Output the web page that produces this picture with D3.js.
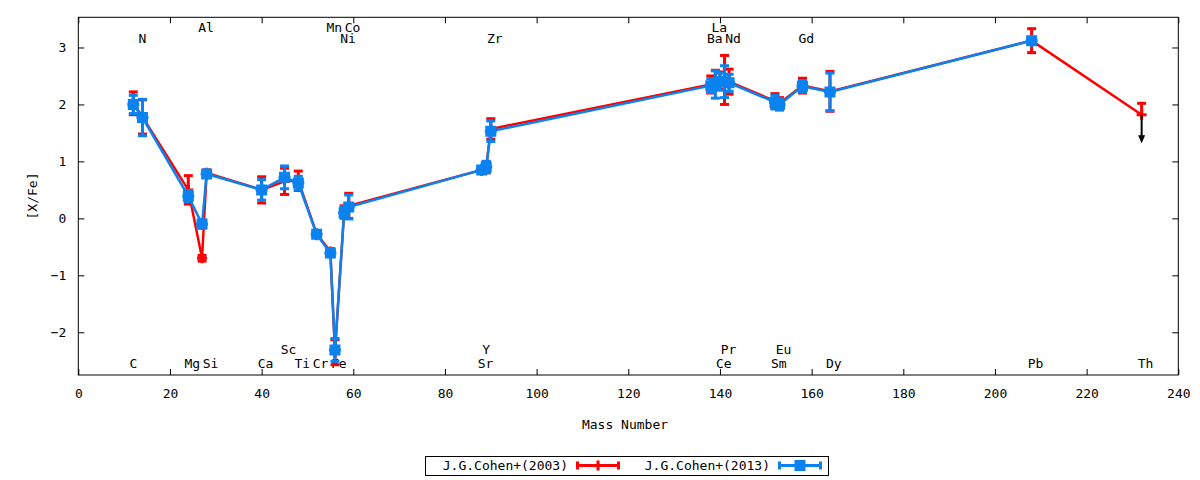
<!doctype html>
<html lang="en">
<head>
  <meta charset="utf-8">
  <title>[X/Fe] vs Mass Number</title>
  <script src="https://cdnjs.cloudflare.com/ajax/libs/d3/7.8.5/d3.min.js"></script>
  <style>
    body { margin: 0; background: #fff; }
    text { font-family: "DejaVu Sans Mono", monospace; font-size: 13px; fill: #000; }
  </style>
</head>
<body>
<svg width="1200" height="480" id="svg"></svg>

<script>
// element labels, mass number and which label row they sit in (0,1 bottom; 2,3 top)
var elements = ['C','N','Mg','Al','Si','Ca','Sc','Ti','Cr','Mn','Fe','Ni','Co','Sr','Y','Zr',
                'Ba','La','Ce','Pr','Nd','Sm','Eu','Gd','Dy','Pb','Th'];
var mass     = [12,14,24,27,28,40,45,48,52,55,56,58,59,88,89,90,
                138,139,140,141,142,152,153,158,164,208,232];
var labelRow = [0,2,0,3,0,0,1,0,0,3,0,2,3,0,1,2,
                2,3,0,1,2,0,1,2,0,0,0];

// J.G.Cohen+(2003)
var cohen2003    = [2.02,1.78,0.50,-0.70,0.80,0.50,0.65,0.66,-0.27,-0.58,-2.35,0.12,0.22,0.85,0.90,1.57,
                    2.35,2.45,2.42,2.43,2.40,2.06,2.02,2.33,2.23,3.12,1.82];
var cohen2003err = [0.20,0.30,0.25,0.05,0.05,0.23,0.23,0.17,0.05,0.05,0.22,0.10,0.22,0.05,0.10,0.18,
                    0.15,0.15,0.15,0.43,0.22,0.13,0.10,0.13,0.35,0.21,0.20];
var upperLimit2003 = ['Th'];

// J.G.Cohen+(2013)
var cohen2013    = [2.00,1.77,0.39,-0.10,0.78,0.50,0.72,0.62,-0.28,-0.61,-2.31,0.10,0.20,0.85,0.90,1.53,
                    2.33,2.35,2.40,2.40,2.38,2.04,2.00,2.32,2.22,3.12,null];
var cohen2013err = [0.16,0.32,0.10,0.07,0.05,0.18,0.20,0.12,0.05,0.05,0.20,0.10,0.21,0.05,0.10,0.18,
                    0.12,0.24,0.15,0.28,0.15,0.12,0.10,0.10,0.33,0.05,null];

var xTicks = [0,20,40,60,80,100,120,140,160,180,200,220,240];
var yTicks = [-2,-1,0,1,2,3];

var svg = d3.select('#svg');
var pLeft = 78.3, pRight = 1178.3, pTop = 17.3, pBottom = 375;

var x = d3.scaleLinear().domain([0,240]).range([pLeft,pRight]);
var y = d3.scaleLinear().domain([-2.75,3.53]).range([pBottom,pTop]);

var RED = '#ff0000', BLUE = '#0a82f0';
var charW = 7.83;

// element labels (under the data)
var rowY = [368, 354, 42.5, 32];
svg.append('g').selectAll('text')
  .data(elements)
  .enter().append('text')
  .attr('x', function(d,i) { return x(mass[i]) - charW/2; })
  .attr('y', function(d,i) { return rowY[labelRow[i]]; })
  .text(function(d) { return d; });

function series(vals, errs, color, marker, limits) {
  var pts = vals.map(function(v,i) { return {m: mass[i], v: v, e: errs[i], el: elements[i]}; })
                .filter(function(d) { return d.v !== null; });
  var g = svg.append('g');

  g.append('path')
    .datum(pts)
    .attr('d', d3.line().x(function(d) { return x(d.m); }).y(function(d) { return y(d.v); }))
    .attr('fill','none')
    .attr('stroke',color)
    .attr('stroke-width',2.5);

  var eb = g.selectAll('.eb').data(pts).enter().append('g');
  eb.append('line')
    .attr('x1', function(d) { return x(d.m); }).attr('x2', function(d) { return x(d.m); })
    .attr('y1', function(d) { return y(d.v + d.e); })
    .attr('y2', function(d) { return limits.indexOf(d.el) >= 0 ? y(d.v) : y(d.v - d.e); })
    .attr('stroke',color).attr('stroke-width',3);
  eb.append('line')
    .attr('x1', function(d) { return x(d.m) - 4.5; }).attr('x2', function(d) { return x(d.m) + 4.5; })
    .attr('y1', function(d) { return y(d.v + d.e); }).attr('y2', function(d) { return y(d.v + d.e); })
    .attr('stroke',color).attr('stroke-width',3);
  eb.filter(function(d) { return limits.indexOf(d.el) < 0; }).append('line')
    .attr('x1', function(d) { return x(d.m) - 4.5; }).attr('x2', function(d) { return x(d.m) + 4.5; })
    .attr('y1', function(d) { return y(d.v - d.e); }).attr('y2', function(d) { return y(d.v - d.e); })
    .attr('stroke',color).attr('stroke-width',3);

  g.selectAll('.pt').data(pts).enter().append('path')
    .attr('transform', function(d) { return 'translate(' + x(d.m) + ',' + y(d.v) + ')'; })
    .attr('d', marker)
    .attr('fill', color)
    .attr('stroke', color)
    .attr('stroke-width', 3);
  return pts;
}

var plusMark = 'M-5,0H5M0,-5V5';
var squareMark = 'M-4,-4H4V4H-4Z M-6,0H6M0,-6V6';

var red = series(cohen2003, cohen2003err, RED, plusMark, upperLimit2003);
series(cohen2013, cohen2013err, BLUE, squareMark, []);

// upper limit arrows
red.filter(function(d) { return upperLimit2003.indexOf(d.el) >= 0; }).forEach(function(d) {
  var x0 = x(d.m), y0 = y(d.v), y1 = y(d.v - 0.5);
  svg.append('line').attr('x1',x0).attr('x2',x0).attr('y1',y0).attr('y2',y1 - 6)
    .attr('stroke','#000').attr('stroke-width',2);
  svg.append('path')
    .attr('d','M' + (x0-3.5) + ',' + (y1-8) + 'L' + (x0+3.5) + ',' + (y1-8) + 'L' + x0 + ',' + y1 + 'Z')
    .attr('fill','#000');
});

// axes, ticks pointing inward on all sides
var ax = svg.append('g');
ax.append('g').attr('transform','translate(0,' + pBottom + ')')
  .call(d3.axisBottom(x).tickValues(xTicks).tickSizeInner(-6).tickSizeOuter(0).tickPadding(14));
ax.append('g').attr('transform','translate(0,' + pTop + ')')
  .call(d3.axisTop(x).tickValues(xTicks).tickSizeInner(-6).tickSizeOuter(0).tickFormat(''));
ax.append('g').attr('transform','translate(' + pLeft + ',0)')
  .call(d3.axisLeft(y).tickValues(yTicks).tickFormat(d3.format('d')).tickSizeInner(-6).tickSizeOuter(0).tickPadding(12));
ax.append('g').attr('transform','translate(' + pRight + ',0)')
  .call(d3.axisRight(y).tickValues(yTicks).tickSizeInner(-6).tickSizeOuter(0).tickFormat(''));
ax.selectAll('.domain').remove();
ax.selectAll('.tick line').attr('stroke','#000');
ax.selectAll('.tick text').style('font-family','"DejaVu Sans Mono", monospace').style('font-size','13px');

svg.append('rect')
  .attr('x',pLeft).attr('y',pTop).attr('width',pRight-pLeft).attr('height',pBottom-pTop)
  .attr('fill','none').attr('stroke','#000').attr('stroke-width',1);

// axis titles
svg.append('text').attr('x',625).attr('y',429).attr('text-anchor','middle').text('Mass Number');
svg.append('text').attr('transform','translate(37,196) rotate(-90)').attr('text-anchor','middle').text('[X/Fe]');

// legend
var legend = [
  {name: 'J.G.Cohen+(2003)', color: RED, marker: plusMark, textEnd: 568, x0: 576},
  {name: 'J.G.Cohen+(2013)', color: BLUE, marker: 'M-4,-4H4V4H-4Z', textEnd: 770, x0: 778}
];
svg.append('rect').attr('x',425.5).attr('y',456.5).attr('width',403).attr('height',19)
  .attr('fill','none').attr('stroke','#000');
var lg = svg.selectAll('.lg').data(legend).enter().append('g');
lg.append('text').attr('x', function(d) { return d.textEnd; }).attr('y',470)
  .attr('text-anchor','end').text(function(d) { return d.name; });
lg.append('line').attr('x1', function(d) { return d.x0; }).attr('x2', function(d) { return d.x0 + 44; })
  .attr('y1',465.5).attr('y2',465.5).attr('stroke', function(d) { return d.color; }).attr('stroke-width',3);
lg.append('path')
  .attr('d', function(d) { return 'M' + (d.x0+1.5) + ',461.5V469.5M' + (d.x0+42.5) + ',461.5V469.5'; })
  .attr('stroke', function(d) { return d.color; }).attr('stroke-width',3);
lg.append('path')
  .attr('transform', function(d) { return 'translate(' + (d.x0 + 22) + ',465.5)'; })
  .attr('d', function(d) { return d.marker; })
  .attr('fill', function(d) { return d.color; })
  .attr('stroke', function(d) { return d.color; }).attr('stroke-width',3);
</script>
</body>
</html>
